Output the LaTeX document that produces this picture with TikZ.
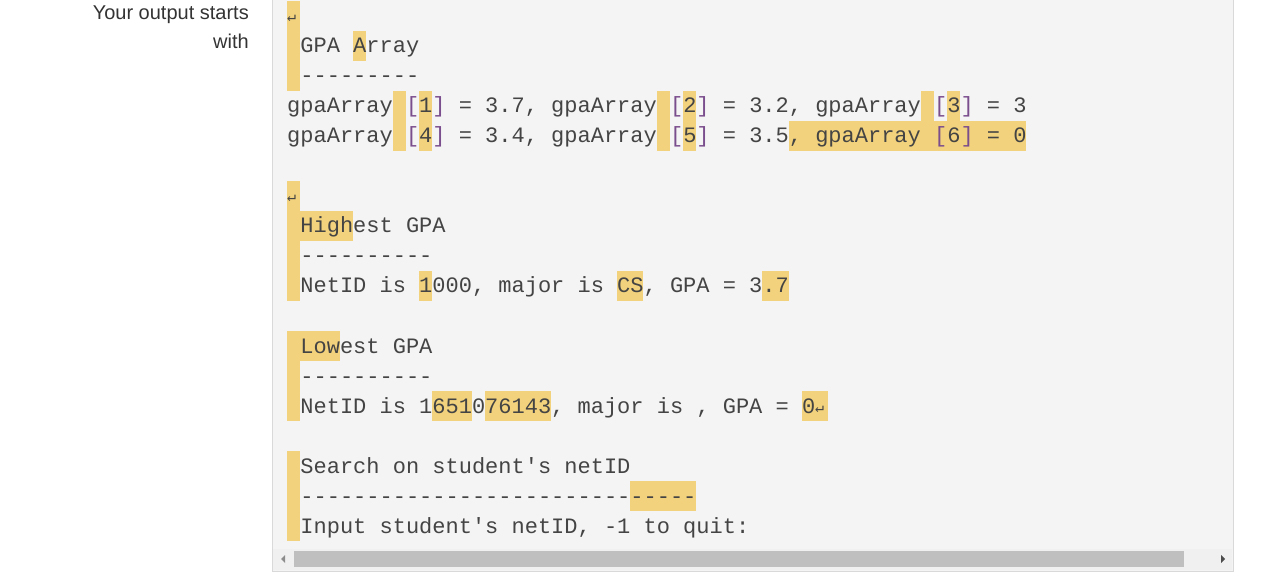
\documentclass[tikz,border=0pt]{standalone}
\usepackage{fontspec}
\setmainfont{Liberation Sans}
\newfontfamily\cmono{Liberation Mono}
\newfontfamily\dvs{DejaVu Sans Mono}
\definecolor{hlc}{HTML}{F2D27C}
\definecolor{bgc}{HTML}{F4F4F4}
\definecolor{txc}{HTML}{444444}
\definecolor{brk}{HTML}{7A4D8C}
\newcommand\hlr[4]{\fill[hlc] ({287+13.2*#3},{1+30*#1}) rectangle ({287+13.2*(#4+1)},{1+30*(#2+1)});}
\newcommand\bk[1]{\textcolor{brk}{#1}}
\newcommand\rt{{\dvs\fontsize{15}{15}\selectfont ↵}}
\begin{document}
\begin{tikzpicture}[x=1pt,y=-1pt,
  ln/.style={anchor=base west,inner sep=0pt,font=\cmono\fontsize{22}{22}\selectfont,text=txc},
  lbl/.style={anchor=base east,inner sep=0pt,font=\fontsize{20}{20}\selectfont,text=black!80}]
\useasboundingbox (0,0) rectangle (1277,577);
\fill[bgc] (272,0) rectangle (1233,571);
\draw[black!15] (272.5,0) -- (272.5,571) -- (1233,571) -- (1233,0);
% highlights
\hlr{0}{2}{0}{0}
\hlr{1}{1}{5}{5}
\hlr{3}{4}{8}{8} \hlr{3}{4}{10}{10}
\hlr{3}{4}{28}{28} \hlr{3}{4}{30}{30}
\hlr{3}{3}{48}{48} \hlr{3}{3}{50}{50}
\hlr{4}{4}{38}{55}
\hlr{6}{9}{0}{0}
\hlr{7}{7}{1}{4}
\hlr{9}{9}{10}{10} \hlr{9}{9}{25}{26} \hlr{9}{9}{36}{37}
\hlr{11}{13}{0}{0}
\hlr{11}{11}{1}{3}
\hlr{13}{13}{11}{13} \hlr{13}{13}{15}{19} \hlr{13}{13}{39}{40}
\hlr{15}{17}{0}{0}
\hlr{16}{16}{26}{30}
% text
\node[ln] (r0) at (287,{16+30*0+6}) {\rt};
\node[ln] (r1) at (300.2,{16+30*1+7}) {GPA Array};
\node[ln] (r2) at (300.2,{16+30*2+7}) {---------};
\node[ln] (r3) at (287,{16+30*3+7}) {gpaArray \bk{[}1\bk{]} = 3.7, gpaArray \bk{[}2\bk{]} = 3.2, gpaArray \bk{[}3\bk{]} = 3};
\node[ln] (r4) at (287,{16+30*4+7}) {gpaArray \bk{[}4\bk{]} = 3.4, gpaArray \bk{[}5\bk{]} = 3.5, gpaArray \bk{[}6\bk{]} = 0};
\node[ln] (r6) at (287,{16+30*6+6}) {\rt};
\node[ln] (r7) at (300.2,{16+30*7+7}) {Highest GPA};
\node[ln] (r8) at (300.2,{16+30*8+7}) {----------};
\node[ln] (r9) at (300.2,{16+30*9+7}) {NetID is 1000, major is CS, GPA = 3.7};
\node[ln] (r11) at (300.2,{16+30*11+7}) {Lowest GPA};
\node[ln] (r12) at (300.2,{16+30*12+7}) {----------};
\node[ln] (r13) at (300.2,{16+30*13+7}) {NetID is 1651076143, major is , GPA = 0};
\node[ln] (r13b) at ({287+13.2*40},{16+30*13+6}) {\rt};
\node[ln] (r15) at (300.2,{16+30*15+7}) {Search on student's netID};
\node[ln] (r16) at (300.2,{16+30*16+7}) {------------------------------};
\node[ln] (r17) at (300.2,{16+30*17+7}) {Input student's netID, -1 to quit:};
% scrollbar
\fill[black!6] (273,549) rectangle (1232,570);
\fill[black!25] (294,551) rectangle (1184,567);
\fill[black!45] (281,559) -- (285,555) -- (285,563) -- cycle;
\fill[black!70] (1225,559) -- (1221,555) -- (1221,563) -- cycle;
% label
\node[lbl] (l1) at (249,20) {Your output starts};
\node[lbl] (l2) at (249,49) {with};
\end{tikzpicture}
\end{document}
